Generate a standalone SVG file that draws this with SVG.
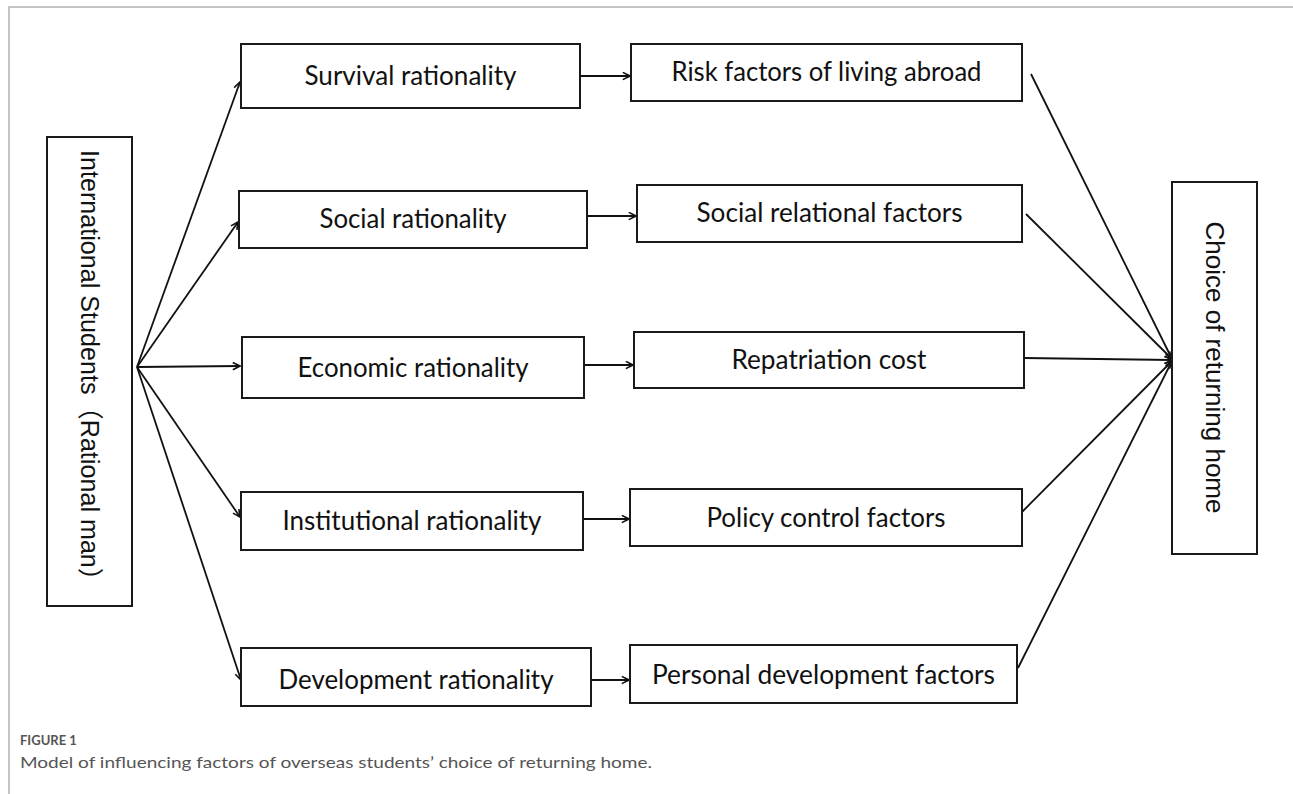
<svg xmlns="http://www.w3.org/2000/svg" width="1293" height="794" viewBox="0 0 1293 794">
<defs>
<style>
.box{fill:#fff;stroke:#1a1a1a;stroke-width:2}
.lbl{font-family:Lato,"Open Sans","Liberation Sans",sans-serif;font-size:26px;fill:#111;text-anchor:middle}
.vl{font-family:"Liberation Sans","Noto Sans CJK SC",sans-serif;font-size:26px;fill:#111;text-anchor:middle}
.con{stroke:#111;stroke-width:1.8;fill:none}
.arr{marker-end:url(#ah)}
.frame{stroke:#b0b0b0;stroke-width:1.5;fill:none}
.cap1{font-family:Lato,"Open Sans",sans-serif;font-size:13px;font-weight:bold;fill:#555}
.cap2{font-family:Lato,"Open Sans",sans-serif;font-size:16px;fill:#555}
</style>
<marker id="ah" viewBox="0 0 10 10" refX="9" refY="5" markerWidth="9" markerHeight="9" markerUnits="userSpaceOnUse" orient="auto">
<path d="M1,1 L9,5 L1,9" fill="none" stroke="#111" stroke-width="1.8"/>
</marker>
</defs>
<rect width="1293" height="794" fill="#fff"/>
<path class="frame" d="M9,794 V7 H1293"/>

<g id="connectors">
<line class="con arr" x1="137" y1="367" x2="240" y2="82"/>
<line class="con arr" x1="137" y1="367" x2="238" y2="222"/>
<line class="con arr" x1="137" y1="367" x2="240" y2="366"/>
<line class="con arr" x1="137" y1="367" x2="240" y2="517"/>
<line class="con arr" x1="137" y1="367" x2="241" y2="680"/>
<line class="con arr" x1="580" y1="76" x2="630" y2="76"/>
<line class="con arr" x1="587" y1="216" x2="636" y2="216"/>
<line class="con arr" x1="584" y1="365" x2="633" y2="365"/>
<line class="con arr" x1="583" y1="519" x2="629" y2="519"/>
<line class="con arr" x1="591" y1="680" x2="629" y2="680"/>
<line class="con arr" x1="1031" y1="74" x2="1172" y2="359"/>
<line class="con arr" x1="1026" y1="214" x2="1172" y2="359"/>
<line class="con arr" x1="1024" y1="358" x2="1172" y2="360"/>
<line class="con arr" x1="1022" y1="512" x2="1172" y2="361"/>
<line class="con arr" x1="1018" y1="668" x2="1172" y2="361"/>
</g>

<g id="international-students">
<rect class="box" x="47" y="137" width="85" height="469"/>
<text class="vl" transform="translate(81,371.5) rotate(90)" textLength="443" lengthAdjust="spacingAndGlyphs">International Students（Rational man）</text>
</g>

<g id="survival-rationality">
<rect class="box" x="241" y="44" width="339" height="64"/>
<text class="lbl" x="410.5" y="85" textLength="212" lengthAdjust="spacingAndGlyphs">Survival rationality</text>
</g>
<g id="social-rationality">
<rect class="box" x="239" y="191" width="348" height="57"/>
<text class="lbl" x="413" y="228" textLength="187" lengthAdjust="spacingAndGlyphs">Social rationality</text>
</g>
<g id="economic-rationality">
<rect class="box" x="242" y="337" width="342" height="61"/>
<text class="lbl" x="413" y="377" textLength="231" lengthAdjust="spacingAndGlyphs">Economic rationality</text>
</g>
<g id="institutional-rationality">
<rect class="box" x="241" y="492" width="342" height="58"/>
<text class="lbl" x="412" y="530" textLength="259" lengthAdjust="spacingAndGlyphs">Institutional rationality</text>
</g>
<g id="development-rationality">
<rect class="box" x="241" y="648" width="350" height="58"/>
<text class="lbl" x="416" y="689" textLength="275" lengthAdjust="spacingAndGlyphs">Development rationality</text>
</g>

<g id="risk-factors">
<rect class="box" x="631" y="44" width="391" height="57"/>
<text class="lbl" x="826.5" y="81" textLength="310" lengthAdjust="spacingAndGlyphs">Risk factors of living abroad</text>
</g>
<g id="social-relational-factors">
<rect class="box" x="637" y="185" width="385" height="57"/>
<text class="lbl" x="829.5" y="222" textLength="266" lengthAdjust="spacingAndGlyphs">Social relational factors</text>
</g>
<g id="repatriation-cost">
<rect class="box" x="634" y="332" width="390" height="56"/>
<text class="lbl" x="829" y="369" textLength="195" lengthAdjust="spacingAndGlyphs">Repatriation cost</text>
</g>
<g id="policy-control-factors">
<rect class="box" x="630" y="489" width="392" height="57"/>
<text class="lbl" x="826" y="527" textLength="239" lengthAdjust="spacingAndGlyphs">Policy control factors</text>
</g>
<g id="personal-development-factors">
<rect class="box" x="630" y="645" width="387" height="58"/>
<text class="lbl" x="823.5" y="684" textLength="343" lengthAdjust="spacingAndGlyphs">Personal development factors</text>
</g>

<g id="choice-of-returning-home">
<rect class="box" x="1172" y="182" width="85" height="372"/>
<text class="vl" transform="translate(1206,367.5) rotate(90)" textLength="292" lengthAdjust="spacingAndGlyphs">Choice of returning home</text>
</g>

<text class="cap1" x="20" y="745">FIGURE 1</text>
<text class="cap2" x="20" y="768" textLength="632" lengthAdjust="spacingAndGlyphs">Model of influencing factors of overseas students’ choice of returning home.</text>
</svg>
